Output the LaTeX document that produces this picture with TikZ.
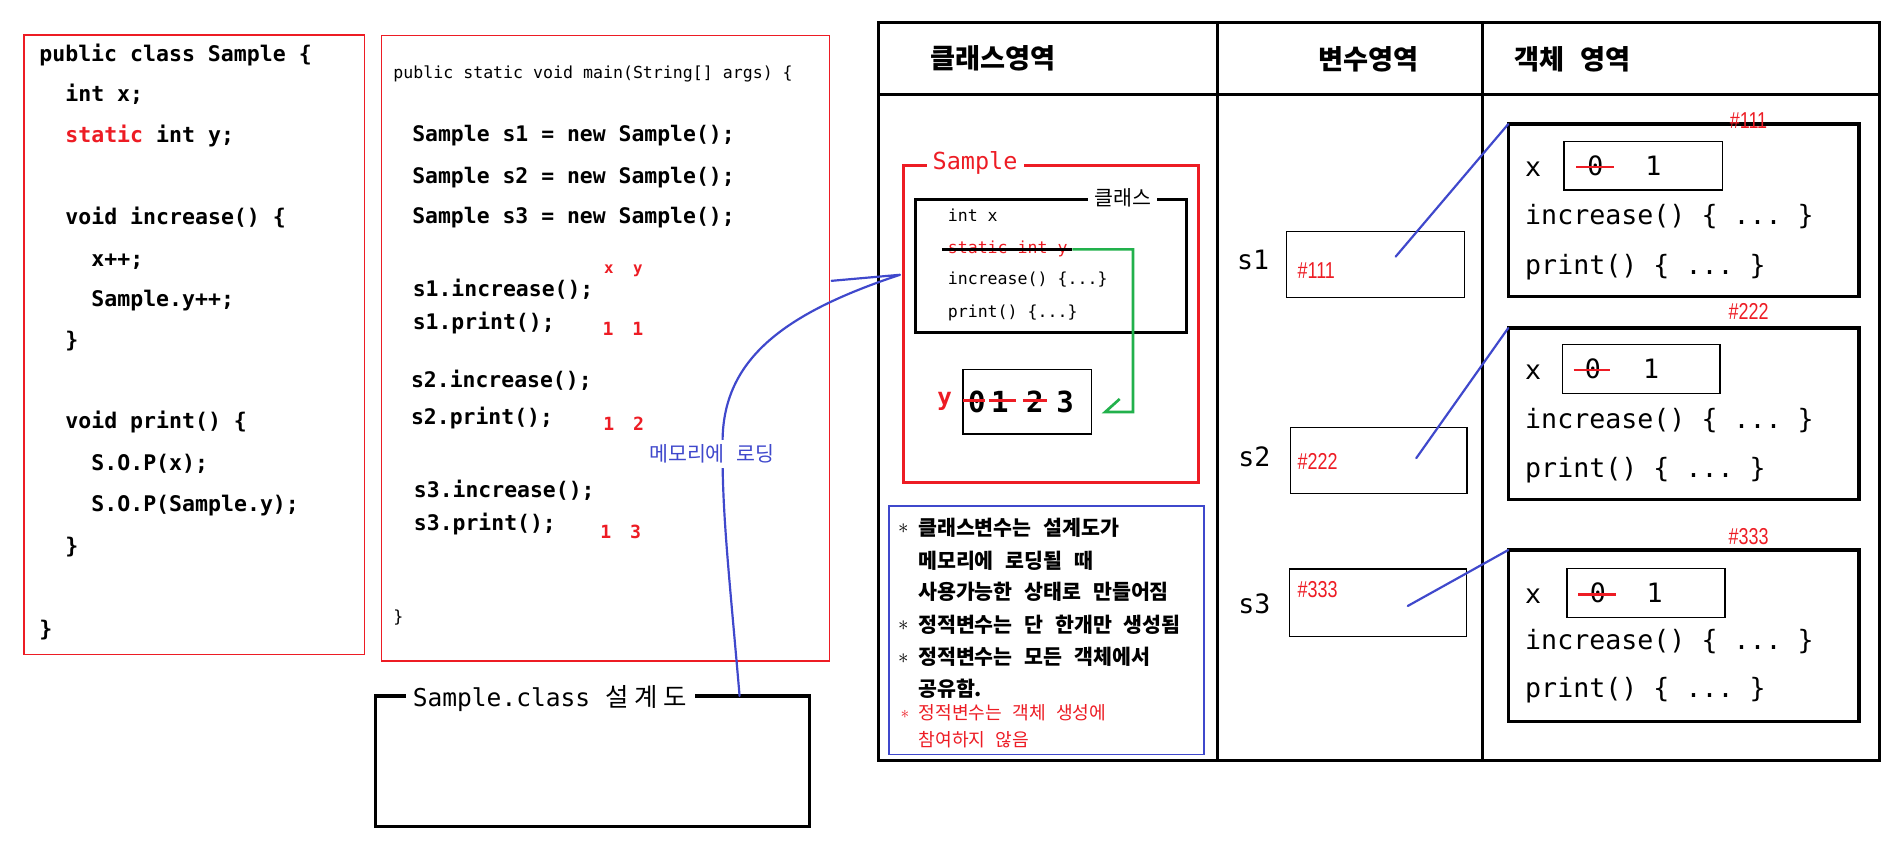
\documentclass[tikz,border=0pt]{standalone}
\usepackage{fontspec}
\setmainfont{DejaVu Sans}
\setmonofont{DejaVu Sans Mono}
\newfontfamily\kr[WordSpace=2.5]{Noto Sans CJK KR}
\newfontfamily\cond[FakeStretch=0.78]{Liberation Sans}
\definecolor{pred}{HTML}{ED1C24}
\definecolor{pblue}{HTML}{3F48CC}
\definecolor{pgreen}{HTML}{22B14C}
\newcommand\setfs[1]{\fontsize{#1}{#1}\selectfont}
\begin{document}
\begin{tikzpicture}[x=1pt,y=-1pt,
  every node/.style={inner sep=0pt, outer sep=0pt},
  bw/.style={anchor=base west},
  codeA/.style={bw, font=\ttfamily\bfseries\setfs{17.8}},
  codeB/.style={bw, font=\ttfamily\bfseries\setfs{17.7}},
  codeS/.style={bw, font=\ttfamily\setfs{13.7}},
  codeC/.style={bw, font=\ttfamily\setfs{13.7}},
  objt/.style={bw, font=\ttfamily\setfs{22}},
  objd/.style={anchor=base, font=\ttfamily\setfs{22}},
  redn/.style={anchor=base, text=pred, font=\ttfamily\bfseries\setfs{15}},
  redl/.style={anchor=base, text=pred, font=\ttfamily\bfseries\setfs{13}},
  hash/.style={text=pred, font=\cond\setfs{19}},
  hdr/.style={font=\kr\bfseries\setfs{22.5}},
  nb/.style={anchor=west, font=\kr\bfseries\setfs{17}},
  nr/.style={anchor=west, text=pred, font=\kr\setfs{15}},
  star/.style={anchor=west, font=\setfs{16}},
  thinred/.style={draw=pred, line width=1pt},
  thinbox/.style={draw=black, line width=1pt},
  thickbox/.style={draw=black, line width=2.6pt},
  conn/.style={draw=pblue, line width=1.8pt, line cap=round, line join=round},
  strike/.style={draw=pred, line width=2.2pt},
  title/.style={fill=white, inner xsep=5pt, inner ysep=1pt}
]
\fill[white] (0,0) rectangle (1568,717);
\useasboundingbox (0,0) rectangle (1568,717);

% ---------- left code box ----------
\node[thinred, minimum width=281pt, minimum height=512pt] (codeL) at (160.4,285) {};
\node[codeA] (l1) at (32.5,51) {public class Sample \{};
\node[codeA] (l2) at (54,83.5) {int x;};
\node[codeA] (l3) at (54,117.6) {\textcolor{pred}{static} int y;};
\node[codeA] (l4) at (54,185.3) {void increase() \{};
\node[codeA] (l5) at (75.5,219.9) {x++;};
\node[codeA] (l6) at (75.5,253.3) {Sample.y++;};
\node[codeA] (l7) at (54,287.3) {\}};
\node[codeA] (l8) at (54,354.3) {void print() \{};
\node[codeA] (l9) at (75.5,388.3) {S.O.P(x);};
\node[codeA] (l10) at (75.5,422.9) {S.O.P(Sample.y);};
\node[codeA] (l11) at (54,457.3) {\}};
\node[codeA] (l12) at (32.5,525.8) {\}};

% ---------- main code box ----------
\node[thinred, minimum width=369.7pt, minimum height=516.4pt] (codeM) at (500.15,287.8) {};
\node[codeS] (m0) at (325,64.6) {public static void main(String[] args) \{};
\node[codeB] (m1) at (340.6,117.1) {Sample s1 = new Sample();};
\node[codeB] (m2) at (340.6,151.3) {Sample s2 = new Sample();};
\node[codeB] (m3) at (340.6,184.6) {Sample s3 = new Sample();};
\node[codeB] (m4) at (341,245.3) {s1.increase();};
\node[codeB] (m5) at (341,272.1) {s1.print();};
\node[codeB] (m6) at (339.6,320.1) {s2.increase();};
\node[codeB] (m7) at (339.6,350.3) {s2.print();};
\node[codeB] (m8) at (342,410.9) {s3.increase();};
\node[codeB] (m9) at (342,438.3) {s3.print();};
\node[codeS] (m10) at (325,514.1) {\}};
\node[redl] (rx) at (503,226) {x};
\node[redl] (ry) at (527,226) {y};
\node[redn] (r11) at (502.4,277) {1};
\node[redn] (r12) at (527,277) {1};
\node[redn] (r21) at (503,356) {1};
\node[redn] (r22) at (527.5,356) {2};
\node[redn] (r31) at (500.6,445) {1};
\node[redn] (r32) at (525,445) {3};

% ---------- design box ----------
\node[thickbox, minimum width=359pt, minimum height=108pt] (design) at (489.5,629) {};
\node[bw, fill=white, inner xsep=6pt, inner ysep=2pt] (designT) at (335,583.7)
  {{\ttfamily\setfs{20.3}Sample.class }{\kr\setfs{21}설\hspace{5pt}계\hspace{5pt}도}};

% ---------- memory table ----------
\node[thickbox, minimum width=827pt, minimum height=609.3pt] (table) at (1139.5,323.35) {};
\coordinate (hl) at (726,77.8);
\coordinate (hr) at (1553,77.8);
\coordinate (c1t) at (1005.6,18.7);
\coordinate (c1b) at (1005.6,628);
\coordinate (c2t) at (1225,18.7);
\coordinate (c2b) at (1225,628);
\draw[line width=2.6pt] (hl) -- (hr);
\draw[line width=2.6pt] (c1t) -- (c1b);
\draw[line width=2.6pt] (c2t) -- (c2b);
\node[hdr] (h1) at (820.5,48.5) {클래스영역};
\node[hdr] (h2) at (1130.5,48.75) {변수영역};
\node[hdr] (h3) at (1299,48.75) {객체 영역};

% class area
\node[draw=pred, line width=2.5pt, minimum width=244.5pt, minimum height=262pt] (sbox) at (868.25,268) {};
\node[title, anchor=base, text=pred, font=\ttfamily\setfs{19.4}] (sboxT) at (805.5,140.4) {Sample};
\node[draw=black, line width=2.5pt, minimum width=224pt, minimum height=110pt] (cbox) at (868.5,219.5) {};
\node[title, font=\kr\setfs{17}] (cboxT) at (927.5,163) {클래스};
\node[codeC] (ci1) at (783,183.1) {int x};
\node[codeC, text=pred] (ci2) at (783,209.1) {static int y};
\node[codeC] (ci3) at (783,235.1) {increase() \{...\}};
\node[codeC] (ci4) at (783,262.1) {print() \{...\}};
\coordinate (sk0) at (778,206);
\coordinate (sk1) at (886,206);
\coordinate (g1) at (936,206);
\coordinate (g2) at (936,340.4);
\coordinate (g3) at (913,340.4);
\coordinate (g4) at (925,329.6);
\draw[line width=2pt] (sk0) -- (sk1);
\draw[draw=pgreen, line width=2.2pt] (sk1) -- (g1) -- (g2) -- (g3) -- (g4);

\node[anchor=base, text=pred, font=\ttfamily\bfseries\setfs{20}] (ylbl) at (780.5,335) {y};
\node[thinbox, minimum width=106.5pt, minimum height=53.5pt] (ybox) at (848.75,331.75) {};
\node[anchor=base, font=\ttfamily\bfseries\setfs{24}] (y0) at (807,341) {0};
\node[anchor=base, font=\ttfamily\bfseries\setfs{24}] (y1) at (826,341) {1};
\node[anchor=base, font=\ttfamily\bfseries\setfs{24}] (y2) at (855,341) {2};
\node[anchor=base, font=\ttfamily\bfseries\setfs{24}] (y3) at (880,341) {3};
\draw[strike] (795.5,331) -- (813.5,331);
\draw[strike] (817,331) -- (839,331);
\draw[strike] (845,331) -- (865,331);

% note box
\node[draw=pblue, line width=1pt, minimum width=260.1pt, minimum height=205pt] (note) at (864.55,520.5) {};
\node[star] (n1s) at (742,437) {$\ast$};
\node[nb] (n1) at (758.5,436) {클래스변수는 설계도가};
\node[nb] (n2) at (758.5,463) {메모리에 로딩될 때};
\node[nb] (n3) at (758.5,489) {사용가능한 상태로 만들어짐};
\node[star] (n4s) at (742,517) {$\ast$};
\node[nb] (n4) at (758.5,516) {정적변수는 단 한개만 생성됨};
\node[star] (n5s) at (742,544) {$\ast$};
\node[nb] (n5) at (758.5,543) {정적변수는 모든 객체에서};
\node[nb] (n6) at (758.5,569) {공유함.};
\node[star, text=pred, font=\setfs{14}] (n7s) at (744,590) {$\ast$};
\node[nr] (n7) at (759,589) {정적변수는 객체 생성에};
\node[nr] (n8) at (759,611) {참여하지 않음};

% variable area
\node[objt] (s1l) at (1022,223) {s1};
\node[objt] (s2l) at (1023,385.6) {s2};
\node[objt] (s3l) at (1023,506.6) {s3};
\node[thinbox, minimum width=147pt, minimum height=55pt] (v1) at (1136.5,218.5) {};
\node[thinbox, minimum width=146pt, minimum height=55pt] (v2) at (1139,380.5) {};
\node[thinbox, minimum width=146.6pt, minimum height=55.6pt] (v3) at (1138.3,497.8) {};
\node[hash, bw] (v1h) at (1072,230) {\#111};
\node[hash, bw] (v2h) at (1072,388) {\#222};
\node[hash, bw] (v3h) at (1072,494) {\#333};

% object area
\node[thickbox, minimum width=289.7pt, minimum height=142.5pt] (obj1) at (1390.85,173.75) {};
\node[thickbox, minimum width=289.7pt, minimum height=142pt] (obj2) at (1390.85,342) {};
\node[thickbox, minimum width=289.7pt, minimum height=141.3pt] (obj3) at (1390.85,525.05) {};
\node[hash, anchor=base] (o1h) at (1444.5,106) {\#111};
\node[hash, anchor=base] (o2h) at (1444.5,264) {\#222};
\node[hash, anchor=base] (o3h) at (1444.5,449.5) {\#333};

\node[thinbox, minimum width=131pt, minimum height=40pt] (xb1) at (1357.5,137) {};
\node[thinbox, minimum width=130pt, minimum height=40.4pt] (xb2) at (1356,304.8) {};
\node[thinbox, minimum width=130.4pt, minimum height=40.5pt] (xb3) at (1359.8,489.75) {};

\node[objd] (x1) at (1266.6,146) {x};
\node[objd] (x1a) at (1318,145) {0};
\node[objd] (x1b) at (1366,145) {1};
\draw[strike] (1302,138) -- (1333,138);
\node[objt] (o1i) at (1260,185.6) {increase() \{ ... \}};
\node[objt] (o1p) at (1260,226.6) {print() \{ ... \}};

\node[objd] (x2) at (1266.6,313.6) {x};
\node[objd] (x2a) at (1316,312.6) {0};
\node[objd] (x2b) at (1364,312.6) {1};
\draw[strike] (1300,305.7) -- (1330,305.7);
\node[objt] (o2i) at (1260,353.6) {increase() \{ ... \}};
\node[objt] (o2p) at (1260,394.6) {print() \{ ... \}};

\node[objd] (x3) at (1266.6,498.5) {x};
\node[objd] (x3a) at (1320,497.5) {0};
\node[objd] (x3b) at (1367,497.5) {1};
\draw[strike] (1304,491) -- (1335,491);
\node[objt] (o3i) at (1260,536.6) {increase() \{ ... \}};
\node[objt] (o3p) at (1260,576.6) {print() \{ ... \}};

% reference connectors
\coordinate (v1p) at (1153,212);
\coordinate (v2p) at (1170,378.5);
\coordinate (v3p) at (1163,500.6);
\draw[conn] (v1p) -- (obj1.north west);
\draw[conn] (v2p) -- (obj2.north west);
\draw[conn] (v3p) -- (obj3.north west);

% loading arrow
\coordinate (load0) at (611,575);
\coordinate (tip) at (743.5,227);
\coordinate (barb) at (687,232);
\draw[conn] (load0) .. controls (602,470) and (596,420) .. (597,361)
  .. controls (599,295) and (650,258) .. (tip) -- (barb);
\node[fill=white, inner xsep=2pt, inner ysep=4pt, text=pblue, font=\kr\setfs{17}] (loadlbl) at (588,375) {메모리에 로딩};
\end{tikzpicture}
\end{document}
